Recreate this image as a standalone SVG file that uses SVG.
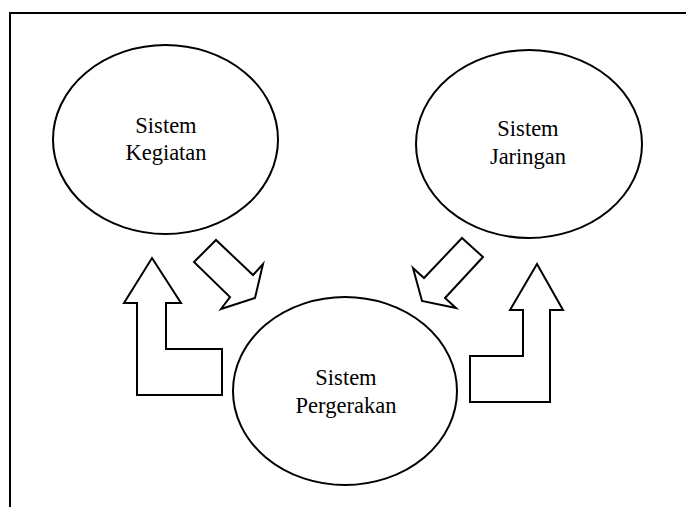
<svg xmlns="http://www.w3.org/2000/svg" width="686" height="507" viewBox="0 0 686 507">
<style>
.frame{fill:none;stroke:#000;stroke-width:2}
.node{fill:#fff;stroke:#000;stroke-width:2}
.arrow{fill:#fff;stroke:#000;stroke-width:2;stroke-linejoin:miter}
.lbl{font-family:"Liberation Serif","Times New Roman",serif;font-size:22.5px;fill:#000;text-anchor:middle}
</style>
<rect width="686" height="507" fill="#fff"/>
<rect class="frame" x="10" y="13" width="690" height="510"/>
<g id="kegiatan">
<ellipse class="node" cx="165.5" cy="139.5" rx="112.5" ry="94.5"/>
<text class="lbl" x="166" y="133">Sistem</text>
<text class="lbl" x="166" y="160">Kegiatan</text>
</g>
<g id="jaringan">
<ellipse class="node" cx="529" cy="144" rx="113" ry="94"/>
<text class="lbl" x="528" y="136">Sistem</text>
<text class="lbl" x="528" y="164">Jaringan</text>
</g>
<g id="pergerakan">
<ellipse class="node" cx="345" cy="391" rx="112" ry="94"/>
<text class="lbl" x="346" y="385">Sistem</text>
<text class="lbl" x="346" y="413">Pergerakan</text>
</g>
<g id="connectors">
<polygon class="arrow" points="152,258 181,303 166,303 166,349 222,349 222,395 137,395 137,303 124,303"/>
<polygon class="arrow" points="194,262 216,240 253,275 263,264 255,298 221,309 230,297"/>
<polygon class="arrow" points="462,238 483,257 445,298 456,308 422,301 413,268 424,278"/>
<polygon class="arrow" points="537,264 563,310 550,310 550,402 470,402 470,356 523,356 523,310 510,310"/>
</g>
</svg>
